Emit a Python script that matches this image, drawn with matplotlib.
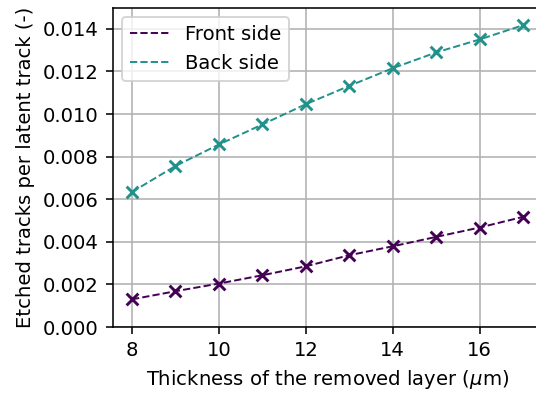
import numpy as np
import matplotlib
matplotlib.use("Agg")
import matplotlib.pyplot as plt

# removed layer thickness (um)
thickness = [8, 9, 10, 11, 12, 13, 14, 15, 16, 17]
# etched tracks per latent track
front_side = [0.00130, 0.00168, 0.00204, 0.00243, 0.00285, 0.00337, 0.00379, 0.00423, 0.00467, 0.00517]
back_side = [0.00634, 0.00756, 0.00857, 0.00951, 0.01046, 0.01132, 0.01215, 0.01289, 0.01350, 0.01417]

dpi = 141
fig = plt.figure(figsize=(536 / dpi, 397 / dpi), dpi=dpi)
# right spine sits just past the figure edge, like the reference crop
ax = fig.add_axes([0.2099, 0.1763, 0.8024, 0.8048])

cmap = plt.cm.viridis
c_front = cmap(0.0)
c_back = cmap(0.5)

ax.scatter(thickness, front_side, marker='x', color=c_front, s=36, zorder=2)
ax.scatter(thickness, back_side, marker='x', color=c_back, s=36, zorder=2)
ax.plot(thickness, front_side, '--', color=c_front, lw=1, label='Front side', zorder=3)
ax.plot(thickness, back_side, '--', color=c_back, lw=1, label='Back side', zorder=3)

ax.set_ylim(0, 0.015)
ax.set_xticks([8, 10, 12, 14, 16])
ax.set_yticks(np.arange(0, 0.0141, 0.002))
ax.grid(True)
ax.set_axisbelow(True)
ax.set_xlabel(r'Thickness of the removed layer ($\mu$m)')
ax.set_ylabel('Etched tracks per latent track (-)')
ax.legend(loc='upper left')

fig.savefig('out.png', dpi=dpi)
